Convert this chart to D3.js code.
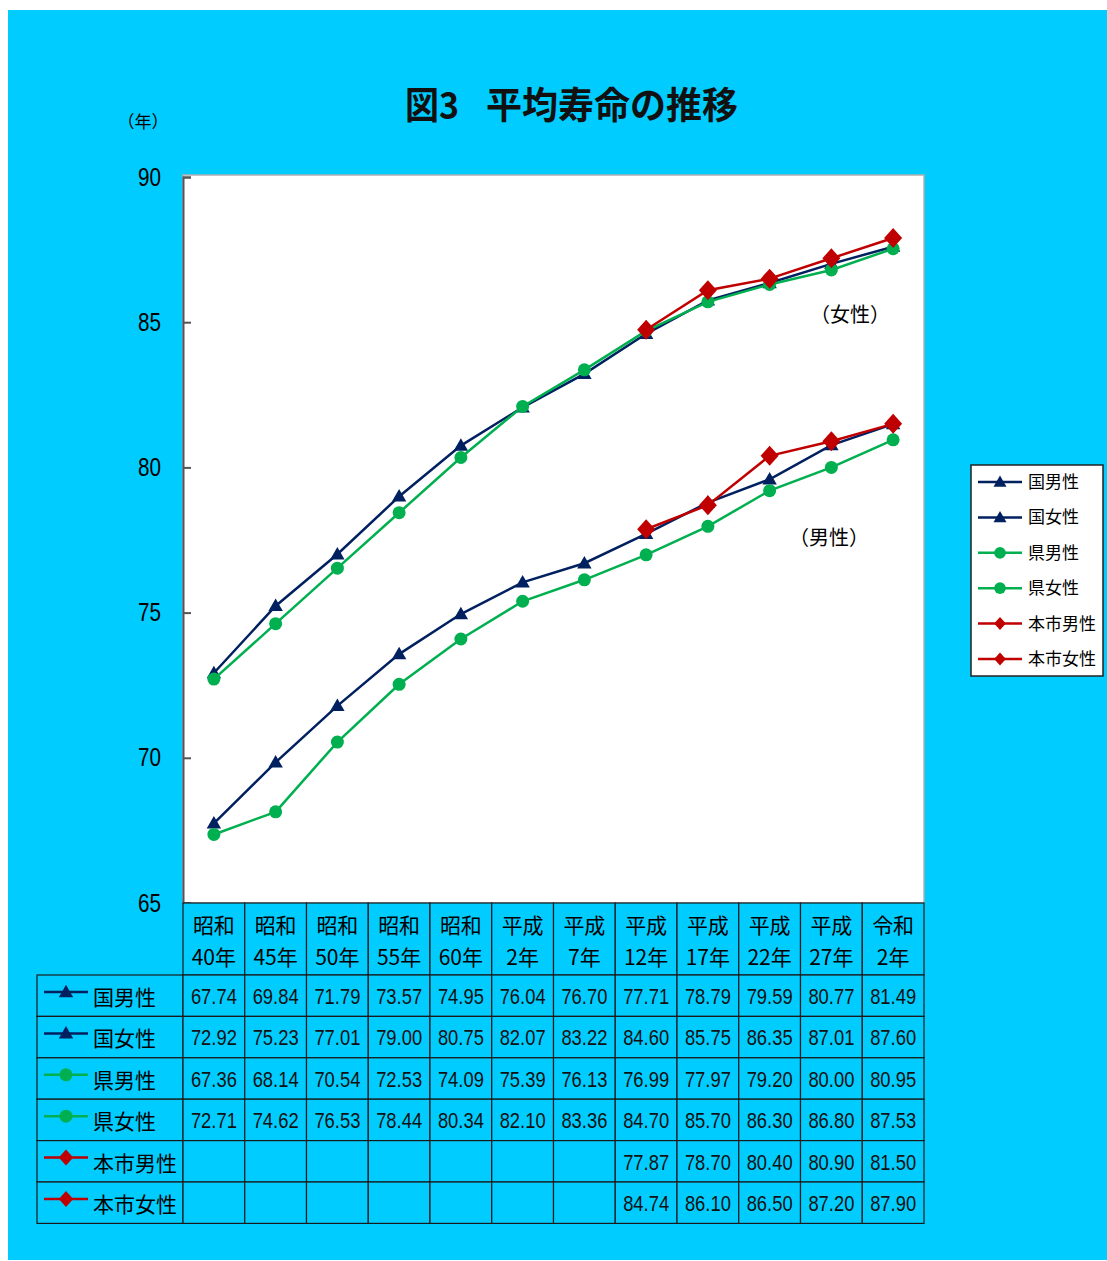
<!DOCTYPE html>
<html>
<head>
<meta charset="utf-8">
<script src="https://cdn.jsdelivr.net/npm/d3@7"></script>
<style>
  body { margin: 0; background: #fff; }
  svg { display: block; }
  .num { font-family: "Liberation Sans", Arial, sans-serif; }
  .jp { font-family: "Noto Sans CJK JP", "Noto Sans", sans-serif; }
</style>
</head>
<body>
<div id="chart"></div>
<script>
// categories (two-line labels)
const categories = ['昭和40年','昭和45年','昭和50年','昭和55年','昭和60年','平成2年','平成7年','平成12年','平成17年','平成22年','平成27年','令和2年'];
const catTop = ['昭和','昭和','昭和','昭和','昭和','平成','平成','平成','平成','平成','平成','令和'];
const catBottom = ['40年','45年','50年','55年','60年','2年','7年','12年','17年','22年','27年','2年'];

const kokuMale   = [67.74, 69.84, 71.79, 73.57, 74.95, 76.04, 76.70, 77.71, 78.79, 79.59, 80.77, 81.49];
const kokuFemale = [72.92, 75.23, 77.01, 79.00, 80.75, 82.07, 83.22, 84.60, 85.75, 86.35, 87.01, 87.60];
const kenMale    = [67.36, 68.14, 70.54, 72.53, 74.09, 75.39, 76.13, 76.99, 77.97, 79.20, 80.00, 80.95];
const kenFemale  = [72.71, 74.62, 76.53, 78.44, 80.34, 82.10, 83.36, 84.70, 85.70, 86.30, 86.80, 87.53];
const cityMale   = [null, null, null, null, null, null, null, 77.87, 78.70, 80.40, 80.90, 81.50];
const cityFemale = [null, null, null, null, null, null, null, 84.74, 86.10, 86.50, 87.20, 87.90];

const seriesNames = ['国男性','国女性','県男性','県女性','本市男性','本市女性'];
const yTicks = [65, 70, 75, 80, 85, 90];

const NAVY = '#002060', GREEN = '#00B050', RED = '#C00000', CYAN = '#00CCFF';
const series = [
  { name: seriesNames[0], values: kokuMale,   color: NAVY,  shape: 'tri' },
  { name: seriesNames[1], values: kokuFemale, color: NAVY,  shape: 'tri' },
  { name: seriesNames[2], values: kenMale,    color: GREEN, shape: 'circle' },
  { name: seriesNames[3], values: kenFemale,  color: GREEN, shape: 'circle' },
  { name: seriesNames[4], values: cityMale,   color: RED,   shape: 'diamond' },
  { name: seriesNames[5], values: cityFemale, color: RED,   shape: 'diamond' }
];

const W = 1107, H = 1261;
const plot = { left: 183, right: 924, top: 177, bottom: 903 };

const svg = d3.select('#chart').append('svg').attr('width', W).attr('height', H);
svg.append('rect').attr('x', 8).attr('y', 10).attr('width', W - 8).attr('height', 1250).attr('fill', CYAN);

const x = d3.scaleBand().domain(categories).range([plot.left, plot.right]).padding(0);
const cx = c => x(c) + x.bandwidth() / 2;
const y = d3.scaleLinear().domain([65, 90]).range([plot.bottom, plot.top]);

// plot area
svg.append('rect').attr('x', plot.left).attr('y', plot.top - 2)
  .attr('width', plot.right - plot.left).attr('height', plot.bottom - plot.top + 2)
  .attr('fill', '#fff').attr('stroke', '#b0b0b0').attr('stroke-width', 1.5);

// y axis
const yAxis = svg.append('g').attr('transform', `translate(${plot.left},0)`)
  .call(d3.axisLeft(y).tickValues(yTicks).tickSize(-8).tickPadding(22));
yAxis.select('.domain').attr('stroke', '#555').attr('stroke-width', 2);
yAxis.selectAll('.tick line').attr('stroke', '#555').attr('stroke-width', 2);
yAxis.selectAll('.tick text').attr('class', 'num').attr('font-size', 25).attr('fill', '#000')
  .attr('textLength', 23).attr('lengthAdjust', 'spacingAndGlyphs');

// title
svg.append('text').attr('class', 'jp').attr('x', 405).attr('y', 119)
  .attr('font-size', 37).attr('font-weight', 700).attr('fill', '#111')
  .attr('textLength', 54).attr('lengthAdjust', 'spacingAndGlyphs').text('図3');
svg.append('text').attr('class', 'jp').attr('x', 486).attr('y', 119)
  .attr('font-size', 37).attr('font-weight', 700).attr('fill', '#111')
  .attr('textLength', 252).attr('lengthAdjust', 'spacingAndGlyphs').text('平均寿命の推移');
svg.append('text').attr('class', 'jp').attr('x', 143).attr('y', 128)
  .attr('text-anchor', 'middle').attr('font-size', 17).text('（年）');

// markers
function marker(g, shape, color, px, py, s) {
  if (shape === 'tri') {
    g.append('path').attr('d', d3.symbol(d3.symbolTriangle, 90 * s * s)()).attr('transform', `translate(${px},${py + 1})`).attr('fill', color);
  } else if (shape === 'circle') {
    g.append('circle').attr('cx', px).attr('cy', py).attr('r', 6.5 * s).attr('fill', color);
  } else {
    g.append('path').attr('d', `M0,${-10 * s}L${9 * s},0L0,${10 * s}L${-9 * s},0Z`).attr('transform', `translate(${px},${py})`).attr('fill', color);
  }
}

const line = d3.line().defined(d => d.v != null).x(d => cx(d.c)).y(d => y(d.v));
series.forEach(s => {
  const pts = categories.map((c, i) => ({ c, v: s.values[i] }));
  const g = svg.append('g');
  g.append('path').attr('d', line(pts)).attr('fill', 'none').attr('stroke', s.color).attr('stroke-width', 2.5);
  pts.filter(d => d.v != null).forEach(d => marker(g, s.shape, s.color, cx(d.c), y(d.v), 1));
});

// annotations
svg.append('text').attr('class', 'jp').attr('x', 850).attr('y', 322).attr('text-anchor', 'middle').attr('font-size', 20).text('（女性）');
svg.append('text').attr('class', 'jp').attr('x', 829).attr('y', 545).attr('text-anchor', 'middle').attr('font-size', 20).text('（男性）');

// legend
const lg = svg.append('g').attr('transform', 'translate(971,465)');
lg.append('rect').attr('width', 132).attr('height', 211).attr('fill', '#fff').attr('stroke', '#222').attr('stroke-width', 1.5);
series.forEach((s, i) => {
  const ly = 17 + i * 35.4;
  lg.append('line').attr('x1', 7).attr('x2', 51).attr('y1', ly).attr('y2', ly).attr('stroke', s.color).attr('stroke-width', 2.5);
  marker(lg, s.shape, s.color, 29, ly, s.shape === 'diamond' ? 0.65 : 0.9);
  lg.append('text').attr('class', 'jp').attr('x', 57).attr('y', ly + 6).attr('font-size', 17).text(s.name);
});

// data table
const tbl = svg.append('g');
const headTop = plot.bottom, headBottom = 975, rowH = 41.4, labelLeft = 37;
const border = '#1a1a1a';
categories.forEach((c, i) => {
  tbl.append('rect').attr('x', x(c)).attr('y', headTop).attr('width', x.bandwidth()).attr('height', headBottom - headTop)
    .attr('fill', CYAN).attr('stroke', border).attr('stroke-width', 1.2);
  tbl.append('text').attr('class', 'jp').attr('x', cx(c)).attr('y', headTop + 30).attr('text-anchor', 'middle').attr('font-size', 21).text(catTop[i]);
  tbl.append('text').attr('class', 'jp').attr('x', cx(c)).attr('y', headTop + 62).attr('text-anchor', 'middle').attr('font-size', 21).text(catBottom[i]);
});
series.forEach((s, r) => {
  const ry = headBottom + r * rowH;
  tbl.append('rect').attr('x', labelLeft).attr('y', ry).attr('width', plot.left - labelLeft).attr('height', rowH)
    .attr('fill', CYAN).attr('stroke', border).attr('stroke-width', 1.2);
  tbl.append('line').attr('x1', 44).attr('x2', 88).attr('y1', ry + 17).attr('y2', ry + 17).attr('stroke', s.color).attr('stroke-width', 2.5);
  marker(tbl, s.shape, s.color, 66, ry + 17, s.shape === 'diamond' ? 0.8 : 1);
  tbl.append('text').attr('class', 'jp').attr('x', 93).attr('y', ry + 30).attr('font-size', 21).text(s.name);
  categories.forEach((c, i) => {
    tbl.append('rect').attr('x', x(c)).attr('y', ry).attr('width', x.bandwidth()).attr('height', rowH)
      .attr('fill', CYAN).attr('stroke', border).attr('stroke-width', 1.2);
    if (s.values[i] != null) {
      tbl.append('text').attr('class', 'num').attr('x', cx(c)).attr('y', ry + 29).attr('text-anchor', 'middle')
        .attr('font-size', 22).attr('fill', '#111')
        .attr('textLength', 46).attr('lengthAdjust', 'spacingAndGlyphs')
        .text(s.values[i].toFixed(2));
    }
  });
});
</script>
</body>
</html>
